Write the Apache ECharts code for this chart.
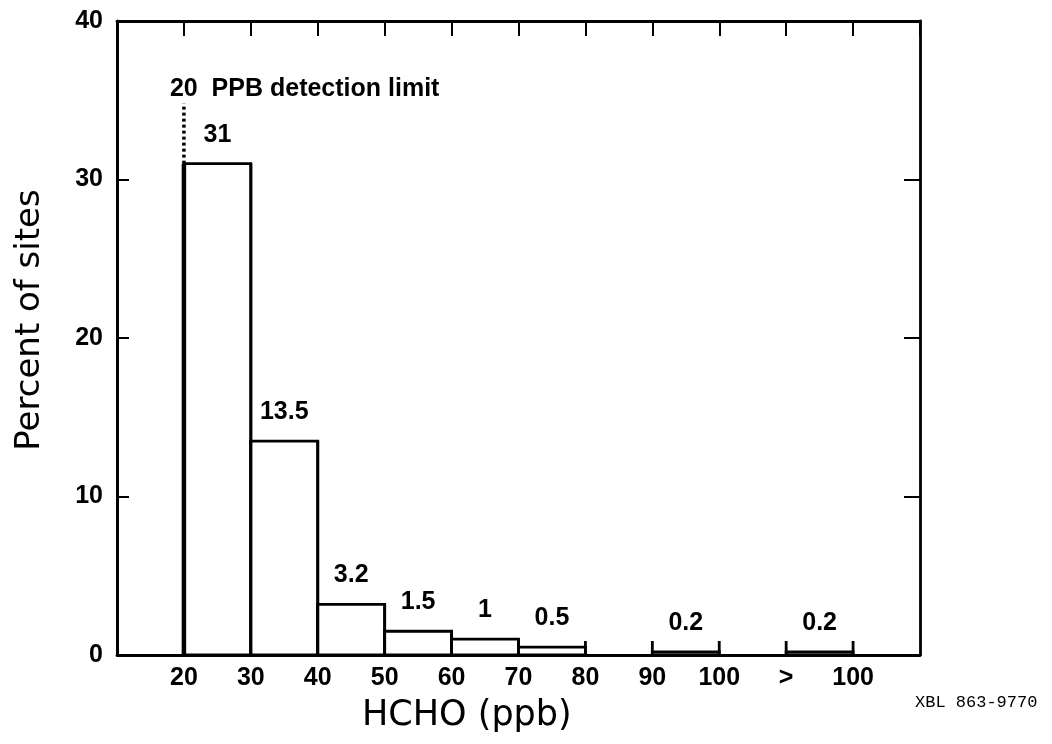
<!DOCTYPE html>
<html>
<head>
<meta charset="utf-8">
<script src="https://cdn.jsdelivr.net/npm/echarts@6/dist/echarts.min.js"></script>
<style>
html,body{margin:0;padding:0;background:#fff;}
#chart{width:1052px;height:744px;}
</style>
</head>
<body>
<div id="chart"></div>
<script>
// ---- data ----
const binStart = [20, 30, 40, 50, 60, 70, 90, 110];
const binEnd   = [30, 40, 50, 60, 70, 80, 100, 120];
const percent  = [31, 13.5, 3.2, 1.5, 1, 0.5, 0.2, 0.2];
const tickValues = [20, 30, 40, 50, 60, 70, 80, 90, 100, 110, 120];
const tickLabels = ['20', '30', '40', '50', '60', '70', '80', '90', '100', '>', '100'];
const yTicks = [0, 10, 20, 30, 40];
const detectionLimit = 20;
const detectionLineTop = 34.8;
const detectionTextY = 35.7;
const detectionText = '20  PPB detection limit';

const chart = echarts.init(document.getElementById('chart'), null, {renderer: 'canvas'});
const FONT = '"Liberation Sans", Arial, Helvetica, sans-serif';

const barData = binStart.map((s, i) => [s, binEnd[i], percent[i]]);

function renderBar(params, api) {
  const x0 = api.value(0), x1 = api.value(1), v = api.value(2);
  const p0 = api.coord([x0, 0]);
  const p1 = api.coord([x1, v]);
  const base = p0[1], top = p1[1];
  const edgeTop = Math.min(top, base - 14);
  const cx = (p0[0] + p1[0]) / 2;
  const leftW = params.dataIndex === 0 ? 4.5 : 2.8;
  return {
    type: 'group',
    children: [
      {type: 'rect', shape: {x: p0[0], y: top, width: p1[0] - p0[0], height: base - top},
       style: {fill: '#fff', stroke: '#000', lineWidth: 2.8}},
      {type: 'line', shape: {x1: p0[0], y1: base, x2: p0[0], y2: edgeTop},
       style: {stroke: '#000', lineWidth: leftW}},
      {type: 'line', shape: {x1: p1[0], y1: base, x2: p1[0], y2: edgeTop},
       style: {stroke: '#000', lineWidth: 2.8}},
      {type: 'text', x: cx, y: top - 29,
       style: {text: String(v), fill: '#000', fontSize: 25, fontWeight: 'bold', fontFamily: FONT,
               align: 'center', verticalAlign: 'middle', textAlign: 'center', textVerticalAlign: 'middle'}}
    ]
  };
}

const option = {
  backgroundColor: '#fff',
  animation: false,
  grid: {left: 117, right: 132, top: 21, bottom: 89, containLabel: false},
  xAxis: [
    {
      type: 'value', position: 'bottom', min: 10, max: 130, interval: 10,
      axisLine: {show: true, onZero: false, lineStyle: {color: '#000', width: 2.8}},
      axisTick: {show: false},
      splitLine: {show: false},
      axisLabel: {
        show: true, margin: 11, color: '#000', fontSize: 25, fontWeight: 'bold', fontFamily: FONT,
        showMinLabel: true, showMaxLabel: true,
        formatter: function (val) {
          const i = tickValues.indexOf(Math.round(val));
          return i >= 0 ? tickLabels[i] : '';
        }
      }
    },
    {
      type: 'value', position: 'top', min: 10, max: 130, interval: 10,
      axisLine: {show: true, onZero: false, lineStyle: {color: '#000', width: 2.8}},
      axisTick: {show: true, inside: true, length: 15, lineStyle: {color: '#000', width: 2}},
      axisLabel: {show: false},
      splitLine: {show: false}
    }
  ],
  yAxis: [
    {
      type: 'value', position: 'left', min: yTicks[0], max: yTicks[yTicks.length - 1], interval: 10,
      axisLine: {show: true, onZero: false, lineStyle: {color: '#000', width: 3}},
      axisTick: {show: true, inside: true, length: 12, lineStyle: {color: '#000', width: 2}},
      axisLabel: {show: true, margin: 14, color: '#000', fontSize: 25, fontWeight: 'bold', fontFamily: FONT},
      splitLine: {show: false}
    },
    {
      type: 'value', position: 'right', min: yTicks[0], max: yTicks[yTicks.length - 1], interval: 10,
      axisLine: {show: true, onZero: false, lineStyle: {color: '#000', width: 2.8}},
      axisTick: {show: true, inside: true, length: 16, lineStyle: {color: '#000', width: 2}},
      axisLabel: {show: false},
      splitLine: {show: false}
    }
  ],
  series: [
    {
      type: 'custom', xAxisIndex: 0, yAxisIndex: 0,
      renderItem: renderBar,
      data: barData,
      encode: {x: [0, 1], y: 2},
      z: 2
    },
    {
      type: 'line', xAxisIndex: 0, yAxisIndex: 0,
      data: [[detectionLimit, percent[0]], [detectionLimit, detectionLineTop]],
      symbol: 'none',
      lineStyle: {color: '#000', width: 3.5, type: [3, 3]},
      z: 3
    },
    {
      type: 'scatter', xAxisIndex: 0, yAxisIndex: 0,
      data: [[detectionLimit, detectionTextY]],
      symbolSize: 0,
      itemStyle: {opacity: 1, color: '#000'},
      label: {
        show: true, position: [-14, 0], align: 'left', verticalAlign: 'middle',
        formatter: detectionText, opacity: 1,
        color: '#000', fontSize: 25, fontWeight: 'bold', fontFamily: FONT
      },
      z: 3
    }
  ],
  graphic: [
    {type: 'text', left: 362, top: 698,
     style: {text: 'HCHO (ppb)', fill: '#000', font: '35px "DejaVu Sans", sans-serif'}},
    {type: 'text', x: 30, y: 320, rotation: Math.PI / 2,
     style: {text: 'Percent of sites', fill: '#000', font: '34px "DejaVu Sans", sans-serif',
             align: 'center', verticalAlign: 'middle', textAlign: 'center', textVerticalAlign: 'middle'}},
    {type: 'text', left: 915, top: 694,
     style: {text: 'XBL 863-9770', fill: '#000', font: '17px "Liberation Mono", "DejaVu Sans Mono", monospace'}}
  ]
};

chart.setOption(option);
</script>
</body>
</html>
